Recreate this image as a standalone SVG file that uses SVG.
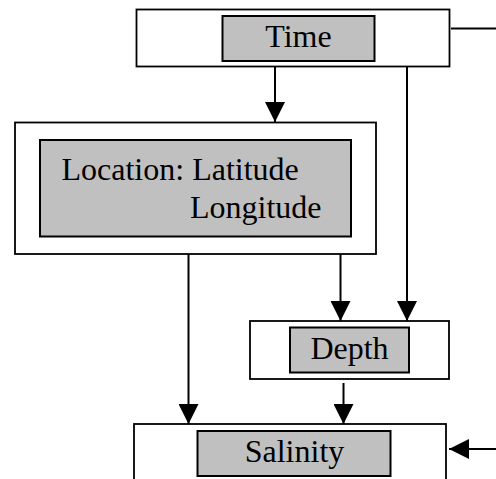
<svg xmlns="http://www.w3.org/2000/svg" width="496" height="479" viewBox="0 0 496 479">
<defs>
<style>
.outer{fill:#fff;stroke:#000;stroke-width:1.8}
.inner{fill:#c0c0c0;stroke:#000;stroke-width:2}
.t{font-family:"Liberation Serif","Times New Roman",serif;font-size:32px;fill:#000}
.c{stroke:#000;stroke-width:2;fill:none}
</style>
<marker id="ah" viewBox="0 0 20 20" refX="20" refY="10" markerWidth="20" markerHeight="20" markerUnits="userSpaceOnUse" orient="auto">
<path d="M0,0 L20,10 L0,20 Z" fill="#000"/>
</marker>
</defs>
<rect width="496" height="479" fill="#fff"/>
<g id="time">
<rect class="outer" x="136.5" y="9.5" width="313" height="57"/>
<rect class="inner" x="222.5" y="16" width="152" height="45"/>
<text class="t" x="298.5" y="46.5" text-anchor="middle">Time</text>
</g>
<g id="location">
<rect class="outer" x="15" y="122.5" width="361" height="131.5"/>
<rect class="inner" x="40" y="140" width="311" height="96.5"/>
<text class="t" x="61.5" y="180">Location: Latitude</text>
<text class="t" x="190" y="218">Longitude</text>
</g>
<g id="depth">
<rect class="outer" x="250" y="321" width="199" height="58"/>
<rect class="inner" x="290" y="327.5" width="119" height="45"/>
<text class="t" x="349.5" y="359" text-anchor="middle">Depth</text>
</g>
<g id="salinity">
<rect class="outer" x="134" y="424" width="312" height="60"/>
<rect class="inner" x="197.5" y="431" width="193" height="45"/>
<text class="t" x="294.5" y="461.5" text-anchor="middle">Salinity</text>
</g>
<g id="connectors">
<line class="c" x1="451" y1="28.5" x2="496" y2="28.5"/>
<line class="c" x1="275" y1="66.5" x2="275" y2="122" marker-end="url(#ah)"/>
<line class="c" x1="407" y1="66.5" x2="407" y2="321" marker-end="url(#ah)"/>
<line class="c" x1="340.5" y1="254" x2="340.5" y2="321" marker-end="url(#ah)"/>
<line class="c" x1="188.5" y1="254" x2="188.5" y2="424" marker-end="url(#ah)"/>
<line class="c" x1="343.5" y1="383" x2="343.5" y2="424" marker-end="url(#ah)"/>
<line class="c" x1="496" y1="449" x2="449" y2="449" marker-end="url(#ah)"/>
</g>
</svg>
